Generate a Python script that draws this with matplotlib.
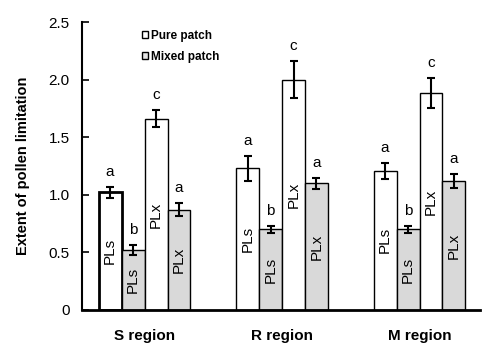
import matplotlib
matplotlib.use("Agg")
import matplotlib.pyplot as plt
from matplotlib.patches import Patch
import numpy as np

plt.rcParams['font.family'] = ['Liberation Sans', 'DejaVu Sans']

regions = ["S region", "R region", "M region"]
bar_labels = ["PLs", "PLs", "PLx", "PLx"]
series_names = ["Pure PLs", "Mixed PLs", "Pure PLx", "Mixed PLx"]
pure_pls = [1.02, 1.23, 1.21]
pure_pls_err = [0.05, 0.11, 0.07]
mixed_pls = [0.52, 0.70, 0.70]
mixed_pls_err = [0.045, 0.03, 0.03]
pure_plx = [1.66, 2.00, 1.88]
pure_plx_err = [0.075, 0.16, 0.13]
mixed_plx = [0.87, 1.10, 1.12]
mixed_plx_err = [0.055, 0.05, 0.06]
letters_pure_pls = ["a", "a", "a"]
letters_mixed_pls = ["b", "b", "b"]
letters_pure_plx = ["c", "c", "c"]
letters_mixed_plx = ["a", "a", "a"]

fig = plt.figure(figsize=(5.0, 3.59), dpi=100)
ax = fig.add_axes([0.164, 0.1365, 0.796, 0.8022])

w = 0.167
x = np.arange(len(regions))
series = [
    (pure_pls, pure_pls_err, letters_pure_pls, "white", "PLs"),
    (mixed_pls, mixed_pls_err, letters_mixed_pls, "#d9d9d9", "PLs"),
    (pure_plx, pure_plx_err, letters_pure_plx, "white", "PLx"),
    (mixed_plx, mixed_plx_err, letters_mixed_plx, "#d9d9d9", "PLx"),
]
offsets = [-1.5, -0.5, 0.5, 1.5]
for k, (vals, errs, lets, col, lab) in enumerate(series):
    xs = x + offsets[k] * w
    lws = [1.0] * len(vals)
    if k == 0:
        lws[0] = 2.0
    for i in range(len(vals)):
        ax.bar(xs[i], vals[i], width=w, color=col, edgecolor="black",
               linewidth=lws[i], zorder=2)
        ax.errorbar(xs[i], vals[i], yerr=errs[i], fmt="none", ecolor="black",
                    elinewidth=1.5, capsize=3, capthick=1.5, zorder=3)
        ax.text(xs[i], vals[i] + errs[i] + 0.13, lets[i], ha="center",
                va="center", fontsize=11)
        ax.text(xs[i], vals[i] / 2, lab, rotation=90, ha="center",
                va="center", fontsize=11)

ax.set_xlim(-0.455, 2.44)
ax.set_ylim(0, 2.5)
ax.set_yticks([0, 0.5, 1.0, 1.5, 2.0, 2.5])
ax.set_yticklabels(["0", "0.5", "1.0", "1.5", "2.0", "2.5"], fontsize=11)
ax.set_xticks(x)
ax.set_xticklabels(regions, fontsize=11, fontweight="bold")
ax.tick_params(axis="x", length=0, pad=14)
ax.tick_params(axis="y", direction="in", length=5, width=1.2, pad=9)
ax.spines["top"].set_visible(False)
ax.spines["right"].set_visible(False)
ax.spines["left"].set_linewidth(1.5)
ax.spines["bottom"].set_linewidth(2.0)
ax.set_ylabel("Extent of pollen limitation", fontsize=10.5, fontweight="bold",
              labelpad=13)

handles = [Patch(facecolor="white", edgecolor="black", linewidth=1),
           Patch(facecolor="#e6e6e6", edgecolor="black", linewidth=1)]
leg = ax.legend(handles, ["Pure patch", "Mixed patch"], loc="upper left",
                bbox_to_anchor=(0.125, 1.01), frameon=False, handlelength=0.5,
                handleheight=0.5, handletextpad=0.2, labelspacing=0.75,
                prop={"weight": "bold", "size": 8.5})

fig.savefig("out.png", dpi=100)
